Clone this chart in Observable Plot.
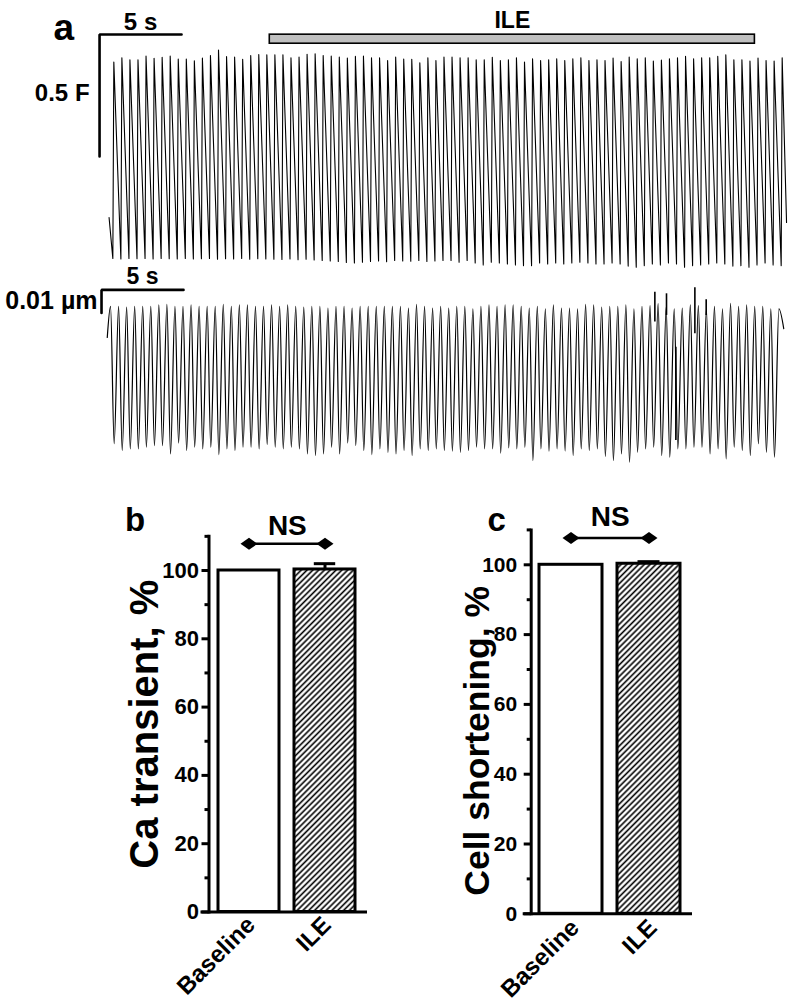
<!DOCTYPE html>
<html><head><meta charset="utf-8">
<script src="https://cdn.jsdelivr.net/npm/d3@7"></script>
<script src="https://cdn.jsdelivr.net/npm/@observablehq/plot@0.6"></script>
<style>
html,body{margin:0;padding:0;background:#fff;}
#root{position:relative;width:789px;height:1004px;overflow:hidden;font-family:"Liberation Sans",Arial,sans-serif;}
#root svg{position:absolute;overflow:visible;max-width:none;}
</style></head><body><div id="root"></div>
<script>
// ================= DATA =================
// ---- panel a: Ca transient trace (F/F0), one peak + diastolic minimum per beat ----
const beatPeriod = 0.491;      // s between stimulated beats
const caFirstPeak = 0.2;       // s
const caUpstroke = 0.06;       // s from minimum to peak
const caPeak = [
 1.805,1.822,1.814,1.814,1.829,1.820,1.824,1.829,1.817,1.817,
 1.810,1.821,1.832,1.854,1.827,1.825,1.816,1.832,1.836,1.835,
 1.835,1.835,1.822,1.825,1.837,1.839,1.832,1.829,1.825,1.821,
 1.828,1.829,1.822,1.822,1.811,1.825,1.817,1.816,1.802,1.822,
 1.811,1.825,1.825,1.822,1.822,1.814,1.814,1.824,1.811,1.814,
 1.822,1.805,1.818,1.811,1.814,1.818,1.811,1.818,1.822,1.811,
 1.814,1.811,1.821,1.807,1.825,1.818,1.822,1.809,1.813,1.818,
 1.822,1.828,1.818,1.822,1.822,1.828,1.835,1.814,1.814,1.809,
 1.821,1.811,1.809,1.822];
const caTrough = [
 1.000,0.998,1.000,0.999,1.000,0.998,1.000,0.999,0.998,1.000,
 0.998,0.999,1.000,0.997,0.999,0.998,1.000,0.997,0.999,0.998,
 0.997,0.996,0.998,0.995,0.997,0.994,0.992,0.990,0.988,0.984,
 0.982,0.985,0.988,0.990,0.987,0.992,0.990,0.989,0.992,0.988,0.990,
 0.992,0.992,0.985,0.992,0.982,0.974,0.985,0.982,0.978,0.974,
 0.971,0.971,0.982,0.978,0.982,0.978,0.982,0.985,0.982,0.978,
 0.978,0.982,0.978,0.969,0.964,0.971,0.978,0.974,0.982,0.978,
 0.964,0.971,0.974,0.978,0.982,0.978,0.969,0.971,0.964,0.974,
 0.982,0.974,0.971];
const caTraceStart = {t: -0.09, v: 1.168};
const caTraceEnd = {t: 41.22, v: 1.148};
const ilePeriod = {start: 9.71, end: 39.29, lo: 1.880, hi: 1.917, label: "ILE"};
const caScaleBar = {t: -0.67, top: 1.918, dur: 5, amp: 0.5, timeLabel: "5 s", ampLabel: "0.5 F"};

// ---- panel a: cell shortening trace (nm), one relaxed peak + contracted minimum per beat ----
const shFirstPeak = 0.0;
const shTroughPhase = 0.45;    // fraction of the beat period
const shPeak = [
 67.8,67.8,67.5,67.8,67.8,67.8,68.5,68.7,67.8,67.8,
 68.5,67.8,67.8,67.8,68.7,67.8,68.5,68.5,67.8,67.8,
 68.5,67.8,68.5,67.8,67.5,67.8,67.8,67.1,67.8,67.8,
 67.1,67.8,67.8,67.8,67.8,67.8,67.8,67.1,68.7,67.8,
 67.1,67.8,
 67.1,67.8,67.8,66.8,67.8,68.5,67.8,68.5,68.5,67.8,
 67.1,67.8,66.8,68.5,67.1,67.1,66.8,68.7,68.5,67.5,
 67.8,67.8,68.5,66.8,67.8,68.2,69.0,67.5,66.8,67.1,
 68.5,68.2,66.8,67.8,66.8,69.2,67.8,68.5,67.8,67.8,
 66.8,66.8];
const shTrough = [
 8.1,5.2,5.9,5.9,6.6,7.3,7.3,3.7,8.4,5.2,
 6.6,5.9,6.6,3.4,5.9,5.2,6.6,6.6,5.9,7.8,
 6.6,5.9,6.6,5.9,3.7,3.0,3.7,6.6,3.7,8.4,
 7.3,5.2,3.4,5.9,4.4,3.7,5.2,3.0,5.9,5.2,
 5.9,5.2,
 4.9,4.4,5.2,6.6,5.9,5.9,4.0,6.3,5.9,6.6,
 0.8,5.9,4.9,5.9,4.9,3.0,5.9,5.2,5.9,2.6,
 0.8,3.7,0.1,4.4,5.9,6.6,3.0,2.3,5.9,5.9,
 6.6,6.6,3.7,5.9,1.5,6.6,5.2,3.0,8.1,4.4,2.3];
const shTraceStart = {t: -0.2, v: 54.3};
const shTraceEnd = {t: 41.05, v: 58.1};
const shArtifactT  = [33.19, 33.90, 34.47, 35.63, 36.32];
const shArtifactLo = [61.0, 63.9, 9.5, 55.9, 63.9];
const shArtifactHi = [74.0, 73.3, 50.1, 75.9, 70.7];
const shScaleBar = {t: -0.55, top: 75.0, dur: 5, amp: 10, timeLabel: "5 s", ampLabel: "0.01 µm"};

// ---- panels b, c ----
const conditions = ["Baseline", "ILE"];
const caTransientMean = [100, 100.3];
const caTransientSem = [0, 1.7];
const shorteningMean = [100, 100.3];
const shorteningSem = [0, 0.6];
const majorTicks = [0, 20, 40, 60, 80, 100];
const minorTicks = [10, 30, 50, 70, 90, 110];
const panelLetters = ["a", "b", "c"];
const yLabels = ["Ca transient, %", "Cell shortening, %"];
const sigLabel = "NS";

// ================= DRAWING =================
const FONT = '"Liberation Sans", Arial, Helvetica, sans-serif';
const root = document.getElementById("root");
function place(svg, left, top) {
  svg.style.position = "absolute";
  svg.style.left = left + "px";
  svg.style.top = top + "px";
  root.appendChild(svg);
}
const baseStyle = {fontFamily: FONT, background: "transparent", overflow: "visible", color: "black"};

// ---- Ca trace ----
const caPoints = [caTraceStart];
caPeak.forEach((p, k) => {
  const tk = caFirstPeak + k * beatPeriod;
  caPoints.push({t: tk - caUpstroke, v: caTrough[k]}, {t: tk, v: p});
});
caPoints.push(caTraceEnd);
const caBarPts = [
  {t: caScaleBar.t + caScaleBar.dur, v: caScaleBar.top},
  {t: caScaleBar.t, v: caScaleBar.top},
  {t: caScaleBar.t, v: caScaleBar.top - caScaleBar.amp}];

const xDomain = [-6.71, 41.40];
const caSvg = Plot.plot({
  width: 789, height: 280, margin: 0,
  style: baseStyle,
  x: {domain: xDomain, axis: null},
  y: {domain: [0.910, 2.057], axis: null},
  marks: [
    Plot.line(caPoints, {x: "t", y: "v", stroke: "black", strokeWidth: 1.1}),
    Plot.line(caBarPts, {x: "t", y: "v", stroke: "black", strokeWidth: 2.6, strokeLinejoin: "miter"}),
    Plot.rect([ilePeriod], {x1: "start", x2: "end", y1: "lo", y2: "hi", fill: "#c0c0c0", stroke: "black", strokeWidth: 1.6}),
    Plot.text([ilePeriod], {x: d => (d.start + d.end) / 2, y: "hi", text: "label", dy: -7, lineAnchor: "bottom", fontSize: 23, fontWeight: "bold"}),
    Plot.text([caScaleBar], {x: d => d.t + d.dur / 2, y: "top", text: "timeLabel", dy: -4, lineAnchor: "bottom", fontSize: 24, fontWeight: "bold"}),
    Plot.text([caScaleBar], {x: "t", y: d => d.top - d.amp / 2, text: "ampLabel", dx: -10, dy: -2, textAnchor: "end", fontSize: 24, fontWeight: "bold"}),
    Plot.text([panelLetters[0]], {frameAnchor: "top-left", text: d => d, dx: 53, dy: 13, fontSize: 37, fontWeight: "bold"})
  ]
});
place(caSvg, 0, 0);

// ---- shortening trace ----
const shPoints = [shTraceStart];
shPeak.forEach((p, k) => {
  const tk = shFirstPeak + k * beatPeriod;
  shPoints.push({t: tk, v: p});
  if (k < shTrough.length) shPoints.push({t: tk + shTroughPhase * beatPeriod, v: shTrough[k]});
});
shPoints.push(shTraceEnd);
const shArtifacts = shArtifactT.map((t, i) => ({t, lo: shArtifactLo[i], hi: shArtifactHi[i]}));
const shBarPts = [
  {t: shScaleBar.t + shScaleBar.dur, v: shScaleBar.top},
  {t: shScaleBar.t, v: shScaleBar.top},
  {t: shScaleBar.t, v: shScaleBar.top - shScaleBar.amp}];

const shSvg = Plot.plot({
  width: 789, height: 200, margin: 0,
  style: baseStyle,
  x: {domain: xDomain, axis: null},
  y: {domain: [-3.52, 83.43], axis: null},
  marks: [
    Plot.line(shPoints, {x: "t", y: "v", stroke: "black", strokeWidth: 1.2, curve: "monotone-x"}),
    Plot.ruleX(shArtifacts, {x: "t", y1: "lo", y2: "hi", stroke: "black", strokeWidth: 1.6}),
    Plot.line(shBarPts, {x: "t", y: "v", stroke: "black", strokeWidth: 2.6, strokeLinejoin: "miter"}),
    Plot.text([shScaleBar], {x: d => d.t + d.dur / 2, y: "top", text: "timeLabel", dy: -6, lineAnchor: "bottom", fontSize: 23, fontWeight: "bold"}),
    Plot.text([shScaleBar], {x: "t", y: d => d.top - d.amp / 2, text: "ampLabel", dx: -4, dy: 0, textAnchor: "end", fontSize: 25, fontWeight: "bold"})
  ]
});
place(shSvg, 0, 270);

// ---- bar panels ----
const rhombus = {draw(ctx) { ctx.moveTo(-8.5, 0); ctx.lineTo(0, -6); ctx.lineTo(8.5, 0); ctx.lineTo(0, 6); ctx.closePath(); }};

function addHatch(svg, id) {
  const ns = "http://www.w3.org/2000/svg";
  const defs = document.createElementNS(ns, "defs");
  defs.innerHTML = `<pattern id="${id}" patternUnits="userSpaceOnUse" width="4.1" height="4.1" patternTransform="rotate(45)"><rect width="4.1" height="4.1" fill="white"/><rect x="1.3" y="-1" width="1.6" height="6.1" fill="black"/></pattern>`;
  svg.insertBefore(defs, svg.firstChild);
}

function barPanel(o) {
  const data = conditions.map((c, i) => ({condition: c, mean: o.means[i], sem: o.sems[i]}));
  const withErr = data.filter(d => d.sem > 0);
  const svg = Plot.plot({
    width: o.width, height: o.height,
    marginLeft: o.ml, marginRight: o.mr, marginTop: o.mt, marginBottom: o.mb,
    style: baseStyle,
    x: {domain: conditions, range: o.xRange, paddingInner: 0.197, paddingOuter: 0, label: null, axis: null},
    y: {domain: [0, 110], label: null, axis: null},
    marks: [
      Plot.barY(data.filter(d => d.condition === conditions[0]), {x: "condition", y: "mean", fill: "white", stroke: "black", strokeWidth: 3}),
      Plot.barY(data.filter(d => d.condition === conditions[1]), {x: "condition", y: "mean", fill: `url(#${o.id})`, stroke: "black", strokeWidth: 3}),
      Plot.ruleX(withErr, {x: "condition", y1: "mean", y2: d => d.mean + d.sem, stroke: "black", strokeWidth: 3}),
      Plot.tickY(withErr, {x: "condition", y: d => d.mean + d.sem, stroke: "black", strokeWidth: 3, insetLeft: o.capInset, insetRight: o.capInset}),
      Plot.frame({anchor: "left", stroke: "black", strokeWidth: 3}),
      Plot.frame({anchor: "bottom", stroke: "black", strokeWidth: 3, insetLeft: -7}),
      Plot.axisY({ticks: majorTicks, tickSize: 7, strokeWidth: 3, label: null, tickFormat: () => ""}),
      Plot.axisY({ticks: minorTicks, tickSize: 4, strokeWidth: 3, label: null, tickFormat: () => ""}),
      Plot.text(majorTicks, {y: d => d, frameAnchor: "left", text: d => String(d), textAnchor: "end", dx: -(7 + o.tickPad), fontSize: o.tickFont, fontWeight: "bold"}),
      Plot.text(conditions, {x: d => d, y: 0, text: d => d, rotate: -45, textAnchor: "end", dx: o.xlabDx, dy: o.xlabDy, fontSize: 24, fontWeight: "bold"}),
      Plot.link([{a: conditions[0], b: conditions[1]}], {x1: "a", x2: "b", y1: o.nsLine, y2: o.nsLine, stroke: "black", strokeWidth: 2.5}),
      Plot.dot(conditions, {x: d => d, y: o.nsLine, symbol: rhombus, fill: "black", stroke: "none"}),
      Plot.text([sigLabel], {x: () => conditions[0], y: o.nsText, text: d => d, dx: o.halfStep, lineAnchor: "bottom", fontSize: 28, fontWeight: "bold"}),
      Plot.text([o.letter], {frameAnchor: "top-left", text: d => d, dx: o.letterDx, dy: o.letterDy, lineAnchor: "bottom", fontSize: 33, fontWeight: "bold"}),
      Plot.text([o.ylabel], {frameAnchor: "left", text: d => d, dx: o.ylabDx, dy: o.ylabDy, rotate: -90, textAnchor: "middle", fontSize: o.ylabFont, fontWeight: "bold"})
    ]
  });
  addHatch(svg, o.id);
  return svg;
}

const bSvg = barPanel({
  id: "hatchB", width: 290, height: 514, ml: 108.5, mr: 25, mt: 45.85, mb: 92.5,
  xRange: [117.5, 255.8], halfStep: 38.35, capInset: 19.8,
  means: caTransientMean, sems: caTransientSem, tickPad: 3, tickFont: 22,
  xlabDx: 2, xlabDy: 9,
  nsLine: 107.8, nsText: 110.3, letter: panelLetters[1], letterDx: -84, letterDy: -5.85,
  ylabel: yLabels[0], ylabDx: -64, ylabDy: 0, ylabFont: 40
});
place(bSvg, 100, 490);

const cSvg = barPanel({
  id: "hatchC", width: 330, height: 514, ml: 110.7, mr: 60, mt: 39.4, mb: 90.7,
  xRange: [118.8, 260.2], halfStep: 39.25, capInset: 20.5,
  means: shorteningMean, sems: shorteningSem, tickPad: 7, tickFont: 21,
  xlabDx: 4, xlabDy: 10,
  nsLine: 107.7, nsText: 111.0, letter: panelLetters[2], letterDx: -43.7, letterDy: 0.6,
  ylabel: yLabels[1], ylabDx: -54, ylabDy: 19, ylabFont: 35.5
});
place(cSvg, 420, 490);
</script></body></html>
